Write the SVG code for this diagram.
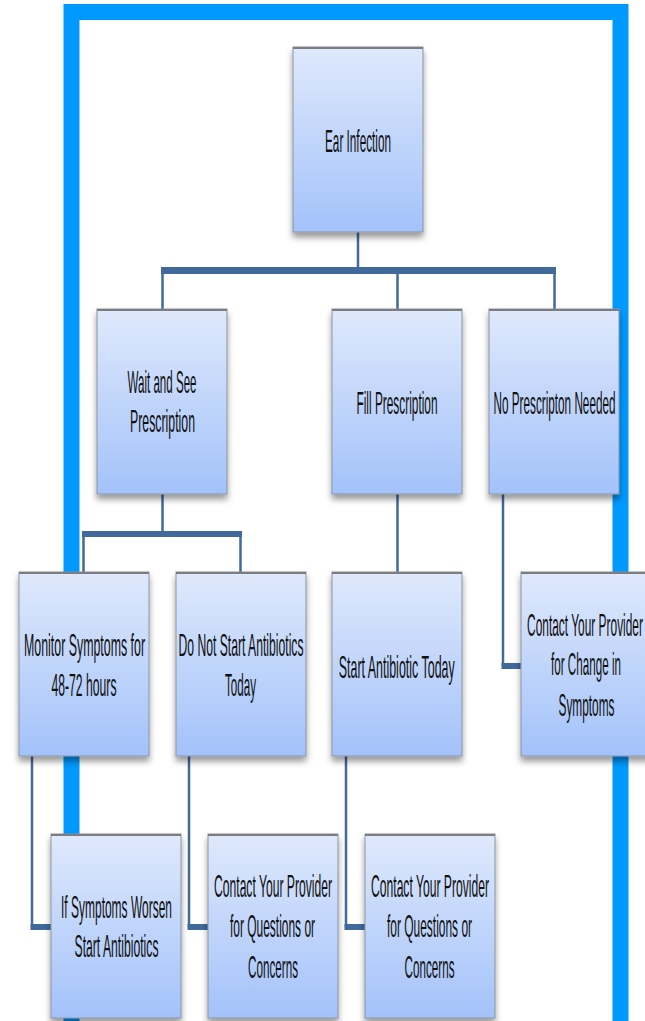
<svg xmlns="http://www.w3.org/2000/svg" width="645" height="1021" viewBox="0 0 645 1021">
<style>
.box{fill:url(#g);stroke:#8a93a3;stroke-width:1;filter:url(#sh)}
.top{stroke:#7d7d7d;stroke-width:2}
.t{font-family:"Liberation Sans",Arial,sans-serif;font-size:31px;fill:#111;text-anchor:middle}
.c{stroke:#41699c;fill:none;stroke-width:2.5}
.bus{fill:#41699c}
</style>
<defs>
<linearGradient id="g" x1="0" y1="0" x2="0" y2="1">
<stop offset="0" stop-color="#dfe9fc"/>
<stop offset="1" stop-color="#a3c2fa"/>
</linearGradient>
<filter id="sh" x="-10%" y="-10%" width="120%" height="125%">
<feDropShadow dx="0" dy="5" stdDeviation="3" flood-color="#000" flood-opacity="0.4"/>
</filter>
</defs>
<rect width="645" height="1021" fill="#fff"/>
<rect id="frame" x="71.5" y="12" width="549" height="1040" fill="none" stroke="#0099ff" stroke-width="16"/>
<g id="connectors">
<line class="c" x1="358" y1="232" x2="358" y2="270"/>
<rect class="bus" x="161" y="267" width="395" height="7"/>
<line class="c" x1="162.5" y1="270" x2="162.5" y2="309"/>
<line class="c" x1="397.5" y1="270" x2="397.5" y2="309"/>
<line class="c" x1="554.5" y1="270" x2="554.5" y2="309"/>
<line class="c" x1="162.5" y1="494" x2="162.5" y2="534"/>
<rect class="bus" x="82" y="531" width="160" height="6"/>
<line class="c" x1="83.5" y1="534" x2="83.5" y2="572"/>
<line class="c" x1="240.5" y1="534" x2="240.5" y2="572"/>
<line class="c" x1="397.5" y1="494" x2="397.5" y2="572"/>
<polyline class="c" points="503,494 503,666"/>
<rect class="bus" x="501.5" y="663" width="20" height="6"/>
<polyline class="c" points="32,756 32,927"/>
<rect class="bus" x="30.5" y="924" width="21" height="6"/>
<polyline class="c" points="189,756 189,927"/>
<rect class="bus" x="187.5" y="924" width="21" height="6"/>
<polyline class="c" points="346,756 346,927"/>
<rect class="bus" x="344.5" y="924" width="21" height="6"/>
</g>
<g id="ear">
<rect class="box" x="293" y="47" width="130" height="185"/>
<line class="top" x1="293" y1="48" x2="423" y2="48"/>
<text class="t" transform="translate(358,152) scale(0.43,1)" textLength="153.5" lengthAdjust="spacingAndGlyphs">Ear Infection</text>
</g>
<g id="wait">
<rect class="box" x="97" y="309" width="130" height="185"/>
<line class="top" x1="97" y1="310" x2="227" y2="310"/>
<text class="t" transform="translate(162,393) scale(0.43,1)" textLength="160.5" lengthAdjust="spacingAndGlyphs">Wait and See</text>
<text class="t" transform="translate(162.5,432) scale(0.43,1)" textLength="151.2" lengthAdjust="spacingAndGlyphs">Prescription</text>
</g>
<g id="fill">
<rect class="box" x="332" y="309" width="130" height="185"/>
<line class="top" x1="332" y1="310" x2="462" y2="310"/>
<text class="t" transform="translate(397,414) scale(0.43,1)" textLength="188.4" lengthAdjust="spacingAndGlyphs">Fill Prescription</text>
</g>
<g id="noRx">
<rect class="box" x="489" y="309" width="130" height="185"/>
<line class="top" x1="489" y1="310" x2="619" y2="310"/>
<text class="t" transform="translate(554.5,414) scale(0.43,1)" textLength="283.7" lengthAdjust="spacingAndGlyphs">No Prescripton Needed</text>
</g>
<g id="monitor">
<rect class="box" x="19" y="572" width="130" height="184"/>
<line class="top" x1="19" y1="573" x2="149" y2="573"/>
<text class="t" transform="translate(84.5,656) scale(0.43,1)" textLength="281.4" lengthAdjust="spacingAndGlyphs">Monitor Symptoms for</text>
<text class="t" transform="translate(84,696) scale(0.43,1)" textLength="151.2" lengthAdjust="spacingAndGlyphs">48-72 hours</text>
</g>
<g id="donot">
<rect class="box" x="176" y="572" width="130" height="184"/>
<line class="top" x1="176" y1="573" x2="306" y2="573"/>
<text class="t" transform="translate(241,656) scale(0.43,1)" textLength="290.7" lengthAdjust="spacingAndGlyphs">Do Not Start Antibiotics</text>
<text class="t" transform="translate(240.5,696) scale(0.43,1)" textLength="72.1" lengthAdjust="spacingAndGlyphs">Today</text>
</g>
<g id="startToday">
<rect class="box" x="332" y="572" width="130" height="184"/>
<line class="top" x1="332" y1="573" x2="462" y2="573"/>
<text class="t" transform="translate(396.7,678) scale(0.43,1)" textLength="269.8" lengthAdjust="spacingAndGlyphs">Start Antibiotic Today</text>
</g>
<g id="contactChange">
<rect class="box" x="521" y="572" width="130" height="184"/>
<line class="top" x1="521" y1="573" x2="651" y2="573"/>
<text class="t" transform="translate(585,636) scale(0.38,1)" textLength="305" lengthAdjust="spacingAndGlyphs">Contact Your Provider</text>
<text class="t" transform="translate(586,675) scale(0.43,1)" textLength="162.8" lengthAdjust="spacingAndGlyphs">for Change in</text>
<text class="t" transform="translate(586.5,716) scale(0.43,1)" textLength="130.2" lengthAdjust="spacingAndGlyphs">Symptoms</text>
</g>
<g id="ifWorsen">
<rect class="box" x="51" y="834" width="130" height="184"/>
<line class="top" x1="51" y1="835" x2="181" y2="835"/>
<text class="t" transform="translate(116.5,918) scale(0.43,1)" textLength="258.1" lengthAdjust="spacingAndGlyphs">If Symptoms Worsen</text>
<text class="t" transform="translate(116.5,957) scale(0.43,1)" textLength="195.3" lengthAdjust="spacingAndGlyphs">Start Antibiotics</text>
</g>
<g id="contactQ1">
<rect class="box" x="208" y="834" width="130" height="184"/>
<line class="top" x1="208" y1="835" x2="338" y2="835"/>
<text class="t" transform="translate(273,897) scale(0.43,1)" textLength="274.4" lengthAdjust="spacingAndGlyphs">Contact Your Provider</text>
<text class="t" transform="translate(272.5,937) scale(0.43,1)" textLength="197.7" lengthAdjust="spacingAndGlyphs">for Questions or</text>
<text class="t" transform="translate(273,978) scale(0.43,1)" textLength="116.3" lengthAdjust="spacingAndGlyphs">Concerns</text>
</g>
<g id="contactQ2">
<rect class="box" x="365" y="834" width="130" height="184"/>
<line class="top" x1="365" y1="835" x2="495" y2="835"/>
<text class="t" transform="translate(430,897) scale(0.43,1)" textLength="274.4" lengthAdjust="spacingAndGlyphs">Contact Your Provider</text>
<text class="t" transform="translate(429.5,937) scale(0.43,1)" textLength="197.7" lengthAdjust="spacingAndGlyphs">for Questions or</text>
<text class="t" transform="translate(429.5,978) scale(0.43,1)" textLength="116.3" lengthAdjust="spacingAndGlyphs">Concerns</text>
</g>
</svg>
